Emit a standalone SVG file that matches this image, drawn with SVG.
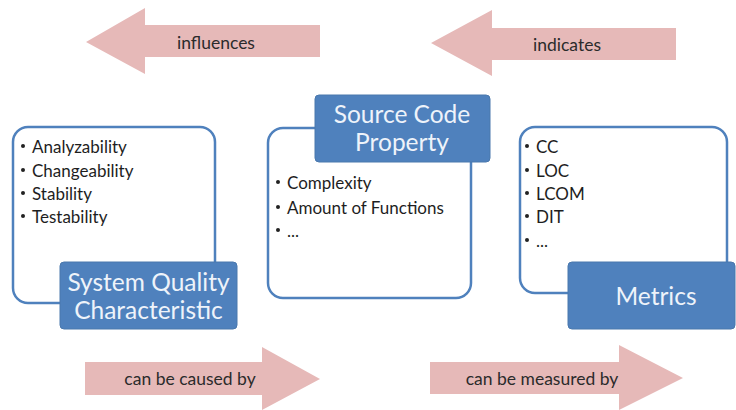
<svg xmlns="http://www.w3.org/2000/svg" width="736" height="410" viewBox="0 0 736 410">
<style>
.arrow{fill:#e6b9b8}
.alabel{font-family:Lato,"Open Sans",sans-serif;font-size:17.5px;fill:#2b2b2b;text-anchor:middle;dominant-baseline:central}
.outline{fill:#fff;stroke:#4f81bd;stroke-width:2.5}
.tag{fill:#4f81bd;stroke:#4a78ad;stroke-width:1}
.tagtext{font-family:Lato,"Open Sans",sans-serif;font-size:24.5px;fill:#eef3fa;text-anchor:middle;dominant-baseline:central}
.item{font-family:Lato,"Open Sans",sans-serif;font-size:17px;fill:#1e1e1e;dominant-baseline:central}
.bullet{fill:#222}
</style>
<g id="connectors">
  <g id="influences">
    <polygon class="arrow" points="86,42 145,8 145,25 320,25 320,57 145,57 145,74"/>
    <text class="alabel" x="216" y="42">influences</text>
  </g>
  <g id="indicates">
    <polygon class="arrow" points="431,43 492,10 492,28 676,28 676,60 492,60 492,76"/>
    <text class="alabel" x="567" y="44">indicates</text>
  </g>
  <g id="caused">
    <polygon class="arrow" points="85,362 262,362 262,347 320,379 262,410 262,395 85,395"/>
    <text class="alabel" x="190" y="378">can be caused by</text>
  </g>
  <g id="measured">
    <polygon class="arrow" points="430,362 619,362 619,345 683,378 619,410 619,394 430,394"/>
    <text class="alabel" x="542" y="378">can be measured by</text>
  </g>
</g>
<g id="node-sqc">
  <rect class="outline" x="13" y="127" width="202" height="176" rx="15"/>
  <circle class="bullet" cx="23" cy="146" r="2"/><text class="item" x="32" y="146">Analyzability</text>
  <circle class="bullet" cx="23" cy="170" r="2"/><text class="item" x="32" y="170">Changeability</text>
  <circle class="bullet" cx="23" cy="193" r="2"/><text class="item" x="32" y="193">Stability</text>
  <circle class="bullet" cx="23" cy="216" r="2"/><text class="item" x="32" y="216">Testability</text>
  <rect class="tag" x="60" y="262" width="177" height="67" rx="4"/>
  <text class="tagtext" x="148.5" y="281">System Quality</text>
  <text class="tagtext" x="148.5" y="309">Characteristic</text>
</g>
<g id="node-scp">
  <rect class="outline" x="268" y="128" width="203" height="170" rx="15"/>
  <rect class="tag" x="315" y="95" width="175" height="67" rx="4"/>
  <text class="tagtext" x="402" y="113">Source Code</text>
  <text class="tagtext" x="402" y="141">Property</text>
  <circle class="bullet" cx="278" cy="182" r="2"/><text class="item" x="287" y="182">Complexity</text>
  <circle class="bullet" cx="278" cy="207" r="2"/><text class="item" x="287" y="207">Amount of Functions</text>
  <circle class="bullet" cx="278" cy="230" r="2"/><text class="item" x="287" y="230">...</text>
</g>
<g id="node-metrics">
  <rect class="outline" x="520" y="127" width="207" height="166" rx="15"/>
  <circle class="bullet" cx="527" cy="146" r="2"/><text class="item" x="536" y="146">CC</text>
  <circle class="bullet" cx="527" cy="170" r="2"/><text class="item" x="536" y="170">LOC</text>
  <circle class="bullet" cx="527" cy="193" r="2"/><text class="item" x="536" y="193">LCOM</text>
  <circle class="bullet" cx="527" cy="216" r="2"/><text class="item" x="536" y="216">DIT</text>
  <circle class="bullet" cx="527" cy="240" r="2"/><text class="item" x="536" y="240">...</text>
  <rect class="tag" x="568" y="262" width="167" height="67" rx="4"/>
  <text class="tagtext" x="656" y="295">Metrics</text>
</g>
</svg>
